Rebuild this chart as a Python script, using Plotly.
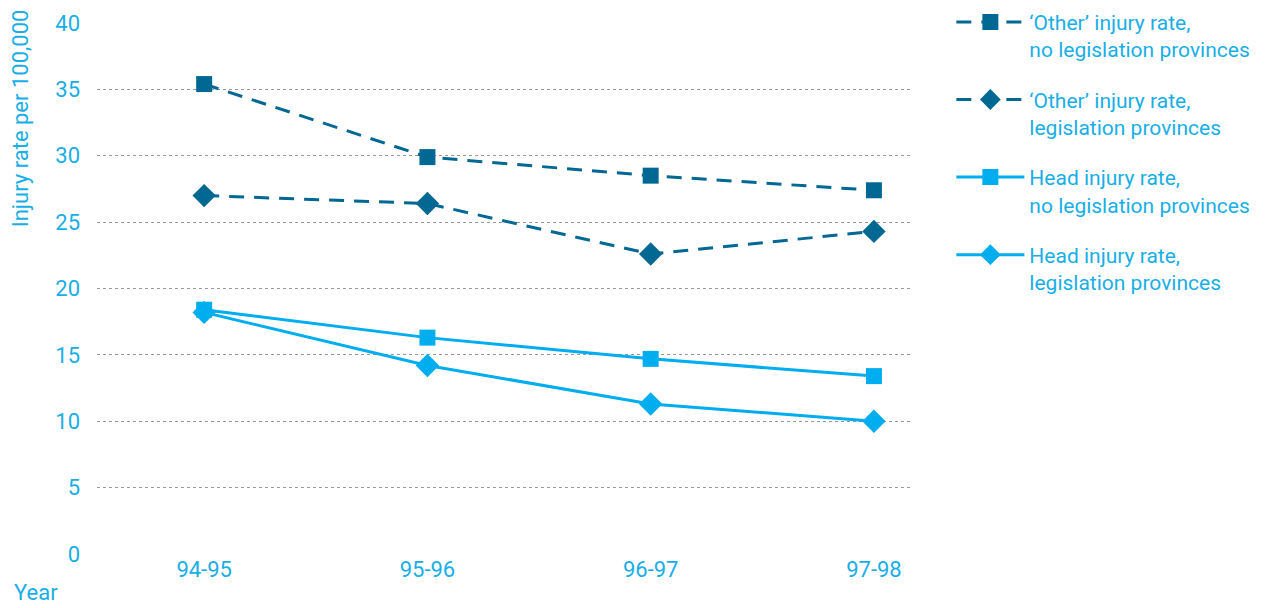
import plotly.graph_objects as go

years = ["94-95", "95-96", "96-97", "97-98"]
other_no_leg = [35.4, 29.9, 28.5, 27.4]
other_leg = [27.0, 26.4, 22.6, 24.3]
head_no_leg = [18.4, 16.3, 14.7, 13.4]
head_leg = [18.2, 14.2, 11.3, 10.0]
y_ticks = [0, 5, 10, 15, 20, 25, 30, 35, 40]

DARK = "#006892"
LIGHT = "#00adee"
TXT = "#1aaee6"
FONT = "Roboto, Arial"

fig = go.Figure()
series = [
    ("\u2018Other\u2019 injury rate,<br>no legislation provinces", other_no_leg, DARK, "15px,10px", "square"),
    ("\u2018Other\u2019 injury rate,<br>legislation provinces", other_leg, DARK, "15px,10px", "diamond"),
    ("Head injury rate,<br>no legislation provinces", head_no_leg, LIGHT, "solid", "square"),
    ("Head injury rate,<br>legislation provinces", head_leg, LIGHT, "solid", "diamond"),
]
for i, (name, vals, col, dash, sym) in enumerate(series):
    fig.add_trace(go.Scatter(
        x=years, y=vals, name=name, mode="lines+markers",
        line=dict(color=col, width=3, dash=dash),
        marker=dict(symbol=sym, size=18 if sym == "diamond" else 16, color=col),
        legendgroup=f"g{i}",
    ))

fig.update_layout(
    width=1263, height=600,
    margin=dict(l=89, r=358, t=15, b=54, autoexpand=False),
    plot_bgcolor="white", paper_bgcolor="white",
    font=dict(family=FONT, color=TXT, size=22),
    showlegend=True,
    legend=dict(x=1.047, y=1.04, xanchor="left", yanchor="top", valign="top",
                font=dict(size=21, color=TXT, family=FONT), maxheight=590,
                tracegroupgap=20, itemwidth=68, bgcolor="rgba(0,0,0,0)"),
    xaxis=dict(range=[-0.48, 3.175], showgrid=False, zeroline=False, showline=False,
               ticks="", tickfont=dict(size=22, color=TXT)),
    yaxis=dict(range=[0, 40], tickvals=y_ticks, showgrid=True, gridcolor="#999999",
               griddash="dot", gridwidth=1, zeroline=False, showline=False,
               ticks="", ticklabelstandoff=16, tickfont=dict(size=22, color=TXT)),
    annotations=[
        dict(text="Injury rate per 100,000", xref="paper", yref="paper",
             x=-0.094, y=0.821, xanchor="center", yanchor="middle", textangle=-90,
             showarrow=False, font=dict(size=22, color=TXT, family=FONT)),
        dict(text="Year", xref="paper", yref="paper", x=-0.104, y=-0.0716,
             xanchor="left", yanchor="middle", showarrow=False,
             font=dict(size=22, color=TXT, family=FONT)),
    ],
)
fig.write_html("out.html")
